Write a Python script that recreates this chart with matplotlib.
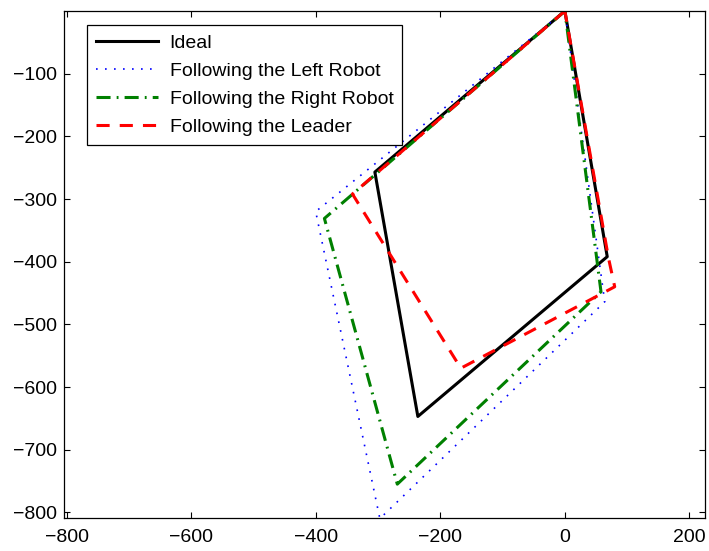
import numpy as np
import matplotlib
matplotlib.use('Agg')
import matplotlib.pyplot as plt

plt.rcParams['font.family'] = ['Liberation Sans', 'DejaVu Sans']

# path of each formation run (closed polygons)
ideal_x = [0, -305, -236, 68, 0]
ideal_y = [0, -257, -647, -392, 0]

left_x = [0, -400, -297, 64, 0]
left_y = [0, -320, -810, -464, 0]

right_x = [0, -386, -269, 58, 0]
right_y = [0, -331, -755, -448, 0]

leader_x = [0, -341, -167, 80, 70, 0]
leader_y = [0, -292, -570, -440, -394, 0]

labels = ['Ideal', 'Following the Left Robot',
          'Following the Right Robot', 'Following the Leader']

x_ticks = [-800, -600, -400, -200, 0, 200]
y_ticks = [-800, -700, -600, -500, -400, -300, -200, -100]

font_size = 14

fig = plt.figure(figsize=(7.09, 5.51), dpi=100)
ax = fig.add_axes([0.0903, 0.0599, 0.9041, 0.9201])

ax.plot(ideal_x, ideal_y, color='black', linewidth=2.2,
        label=labels[0])
ax.plot(left_x, left_y, color='blue', linewidth=1.2,
        linestyle=(0, (1.0, 4.4)), label=labels[1])
ax.plot(right_x, right_y, color='green', linewidth=2.2,
        linestyle=(0, (4.6, 2.0, 0.6, 2.0)), label=labels[2])
ax.plot(leader_x, leader_y, color='red', linewidth=2.2,
        linestyle=(0, (4.3, 3.3)), label=labels[3])

ax.set_xlim(-804, 225)
ax.set_ylim(-809, 0)
ax.set_xticks(x_ticks)
ax.set_yticks(y_ticks)

ax.tick_params(axis='both', which='major', labelsize=font_size,
               direction='in', length=4, width=0.8,
               top=True, right=True)
ax.tick_params(axis='x', pad=8)
ax.tick_params(axis='y', pad=5)
for s in ax.spines.values():
    s.set_linewidth(0.9)

leg = ax.legend(loc='upper left', bbox_to_anchor=(0.036, 0.972),
                borderaxespad=0, fontsize=font_size, handlelength=3.2,
                handletextpad=0.6, labelspacing=0.54, borderpad=0.45,
                fancybox=False, framealpha=1, edgecolor='black')
leg.get_frame().set_linewidth(0.9)

plt.savefig('out.png', dpi=100)
